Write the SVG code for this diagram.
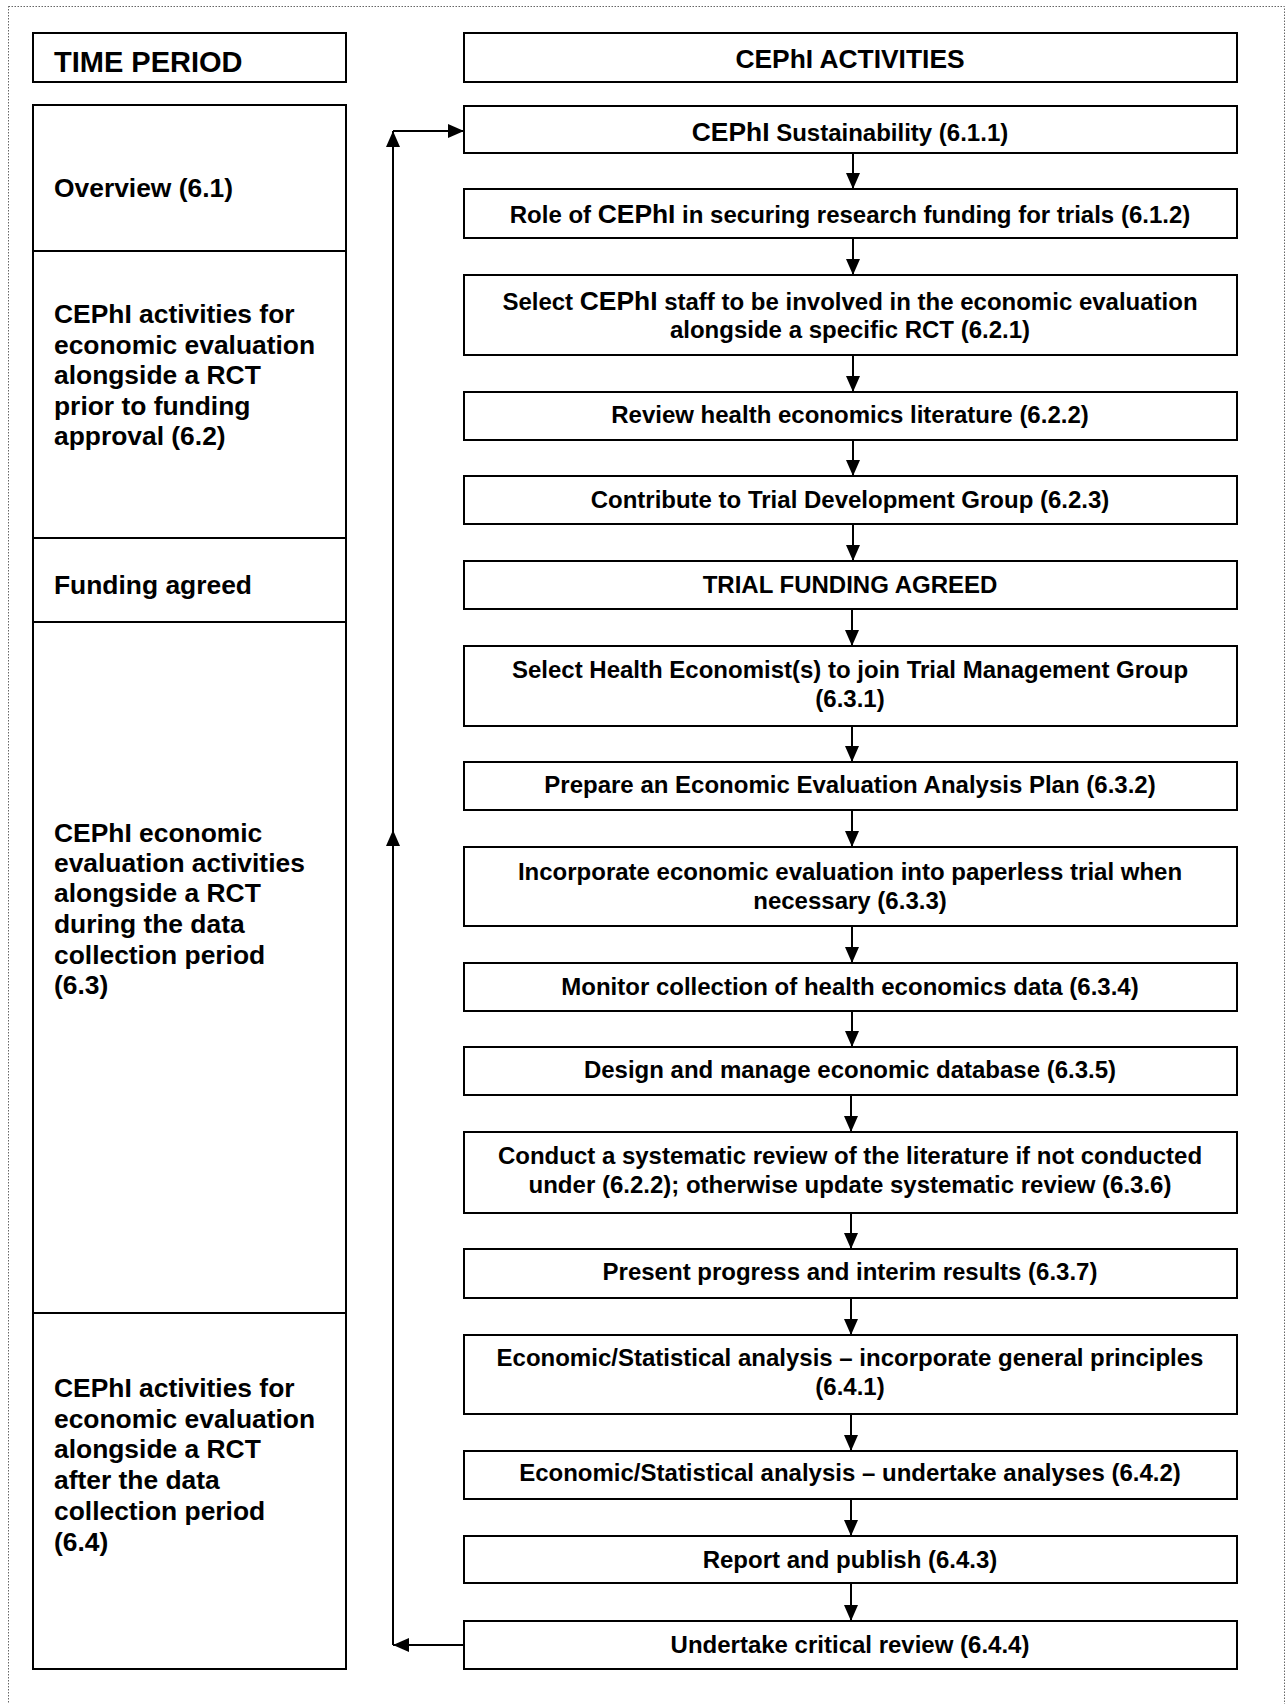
<svg xmlns="http://www.w3.org/2000/svg" width="1287" height="1704" viewBox="0 0 1287 1704">
<style>
  .frame { fill: none; stroke: #666; stroke-width: 1; stroke-dasharray: 1.5 1.5; }
  .box { fill: #fff; stroke: #000; stroke-width: 2; }
  .lt { font-family: "Liberation Sans", Arial, sans-serif; font-weight: bold; font-size: 26.4px; fill: #000; }
  .hd { font-family: "Liberation Sans", Arial, sans-serif; font-weight: bold; font-size: 29px; fill: #000; }
  .rt { font-family: "Liberation Sans", Arial, sans-serif; font-weight: bold; font-size: 24px; fill: #000; text-anchor: middle; }
  .big { font-size: 26.4px; }
  .conn { stroke: #000; stroke-width: 2; fill: none; marker-end: url(#arr); }
</style>
<defs>
  <marker id="arr" markerUnits="userSpaceOnUse" markerWidth="17" markerHeight="14" refX="16" refY="7" orient="auto">
    <path d="M0,0 L16,7 L0,14 z" fill="#000"/>
  </marker>
</defs>
<rect width="1287" height="1704" fill="#fff"/>
<rect class="frame" x="8.5" y="6.5" width="1276" height="1720"/>

<!-- Left column: time periods -->
<g id="time-period-header">
  <rect class="box" x="33" y="33" width="313" height="49"/>
  <text class="hd" x="54" y="72">TIME PERIOD</text>
</g>
<g id="period-6-1">
  <rect class="box" x="33" y="105" width="313" height="146"/>
  <text class="lt" x="54" y="197">Overview (6.1)</text>
</g>
<g id="period-6-2">
  <rect class="box" x="33" y="251" width="313" height="287"/>
  <text class="lt" x="54" y="323">CEPhI activities for</text>
  <text class="lt" x="54" y="353.5">economic evaluation</text>
  <text class="lt" x="54" y="384">alongside a RCT</text>
  <text class="lt" x="54" y="414.5">prior to funding</text>
  <text class="lt" x="54" y="445">approval (6.2)</text>
</g>
<g id="period-funding">
  <rect class="box" x="33" y="538" width="313" height="84"/>
  <text class="lt" x="54" y="594">Funding agreed</text>
</g>
<g id="period-6-3">
  <rect class="box" x="33" y="622" width="313" height="691"/>
  <text class="lt" x="54" y="842">CEPhI economic</text>
  <text class="lt" x="54" y="872">evaluation activities</text>
  <text class="lt" x="54" y="902">alongside a RCT</text>
  <text class="lt" x="54" y="933">during the data</text>
  <text class="lt" x="54" y="964">collection period</text>
  <text class="lt" x="54" y="994">(6.3)</text>
</g>
<g id="period-6-4">
  <rect class="box" x="33" y="1313" width="313" height="356"/>
  <text class="lt" x="54" y="1397">CEPhI activities for</text>
  <text class="lt" x="54" y="1428">economic evaluation</text>
  <text class="lt" x="54" y="1458">alongside a RCT</text>
  <text class="lt" x="54" y="1489">after the data</text>
  <text class="lt" x="54" y="1520">collection period</text>
  <text class="lt" x="54" y="1551">(6.4)</text>
</g>

<!-- Right column: activities -->
<g id="activities-header">
  <rect class="box" x="464" y="33" width="773" height="49"/>
  <text class="rt big" x="850" y="68">CEPhI ACTIVITIES</text>
</g>
<g id="a-6-1-1">
  <rect class="box" x="464" y="106" width="773" height="47"/>
  <text class="rt" x="850" y="141"><tspan class="big">CEPhI</tspan> Sustainability (6.1.1)</text>
</g>
<g id="a-6-1-2">
  <rect class="box" x="464" y="189" width="773" height="49"/>
  <text class="rt" x="850" y="223">Role of <tspan class="big">CEPhI</tspan> in securing research funding for trials (6.1.2)</text>
</g>
<g id="a-6-2-1">
  <rect class="box" x="464" y="275" width="773" height="80"/>
  <text class="rt" x="850" y="310">Select <tspan class="big">CEPhI</tspan> staff to be involved in the economic evaluation</text>
  <text class="rt" x="850" y="338">alongside a specific RCT (6.2.1)</text>
</g>
<g id="a-6-2-2">
  <rect class="box" x="464" y="392" width="773" height="48"/>
  <text class="rt" x="850" y="423">Review health economics literature (6.2.2)</text>
</g>
<g id="a-6-2-3">
  <rect class="box" x="464" y="476" width="773" height="48"/>
  <text class="rt" x="850" y="508">Contribute to Trial Development Group (6.2.3)</text>
</g>
<g id="a-funding">
  <rect class="box" x="464" y="561" width="773" height="48"/>
  <text class="rt" x="850" y="593">TRIAL FUNDING AGREED</text>
</g>
<g id="a-6-3-1">
  <rect class="box" x="464" y="646" width="773" height="80"/>
  <text class="rt" x="850" y="678">Select Health Economist(s) to join Trial Management Group</text>
  <text class="rt" x="850" y="707">(6.3.1)</text>
</g>
<g id="a-6-3-2">
  <rect class="box" x="464" y="762" width="773" height="48"/>
  <text class="rt" x="850" y="793">Prepare an Economic Evaluation Analysis Plan (6.3.2)</text>
</g>
<g id="a-6-3-3">
  <rect class="box" x="464" y="847" width="773" height="79"/>
  <text class="rt" x="850" y="880">Incorporate economic evaluation into paperless trial when</text>
  <text class="rt" x="850" y="909">necessary (6.3.3)</text>
</g>
<g id="a-6-3-4">
  <rect class="box" x="464" y="963" width="773" height="48"/>
  <text class="rt" x="850" y="995">Monitor collection of health economics data (6.3.4)</text>
</g>
<g id="a-6-3-5">
  <rect class="box" x="464" y="1047" width="773" height="48"/>
  <text class="rt" x="850" y="1078">Design and manage economic database (6.3.5)</text>
</g>
<g id="a-6-3-6">
  <rect class="box" x="464" y="1132" width="773" height="81"/>
  <text class="rt" x="850" y="1164">Conduct a systematic review of the literature if not conducted</text>
  <text class="rt" x="850" y="1193">under (6.2.2); otherwise update systematic review (6.3.6)</text>
</g>
<g id="a-6-3-7">
  <rect class="box" x="464" y="1249" width="773" height="49"/>
  <text class="rt" x="850" y="1280">Present progress and interim results (6.3.7)</text>
</g>
<g id="a-6-4-1">
  <rect class="box" x="464" y="1335" width="773" height="79"/>
  <text class="rt" x="850" y="1366">Economic/Statistical analysis – incorporate general principles</text>
  <text class="rt" x="850" y="1395">(6.4.1)</text>
</g>
<g id="a-6-4-2">
  <rect class="box" x="464" y="1451" width="773" height="48"/>
  <text class="rt" x="850" y="1481">Economic/Statistical analysis – undertake analyses (6.4.2)</text>
</g>
<g id="a-6-4-3">
  <rect class="box" x="464" y="1536" width="773" height="47"/>
  <text class="rt" x="850" y="1568">Report and publish (6.4.3)</text>
</g>
<g id="a-6-4-4">
  <rect class="box" x="464" y="1621" width="773" height="48"/>
  <text class="rt" x="850" y="1653">Undertake critical review (6.4.4)</text>
</g>

<!-- Connectors -->
<g id="connectors">
  <line class="conn" x1="853" y1="153" x2="853" y2="189"/>
  <line class="conn" x1="853" y1="238" x2="853" y2="275"/>
  <line class="conn" x1="853" y1="355" x2="853" y2="392"/>
  <line class="conn" x1="853" y1="440" x2="853" y2="476"/>
  <line class="conn" x1="853" y1="524" x2="853" y2="561"/>
  <line class="conn" x1="852" y1="609" x2="852" y2="646"/>
  <line class="conn" x1="852" y1="726" x2="852" y2="762"/>
  <line class="conn" x1="852" y1="810" x2="852" y2="847"/>
  <line class="conn" x1="852" y1="926" x2="852" y2="963"/>
  <line class="conn" x1="852" y1="1011" x2="852" y2="1047"/>
  <line class="conn" x1="851" y1="1095" x2="851" y2="1132"/>
  <line class="conn" x1="851" y1="1213" x2="851" y2="1249"/>
  <line class="conn" x1="851" y1="1298" x2="851" y2="1335"/>
  <line class="conn" x1="851" y1="1414" x2="851" y2="1451"/>
  <line class="conn" x1="851" y1="1499" x2="851" y2="1536"/>
  <line class="conn" x1="851" y1="1583" x2="851" y2="1621"/>
  <!-- feedback loop -->
  <line class="conn" x1="464" y1="1645" x2="393" y2="1645"/>
  <line class="conn" x1="393" y1="1645" x2="393" y2="830"/>
  <line class="conn" x1="393" y1="831" x2="393" y2="131"/>
  <line class="conn" x1="393" y1="131" x2="464" y2="131"/>
</g>
</svg>
